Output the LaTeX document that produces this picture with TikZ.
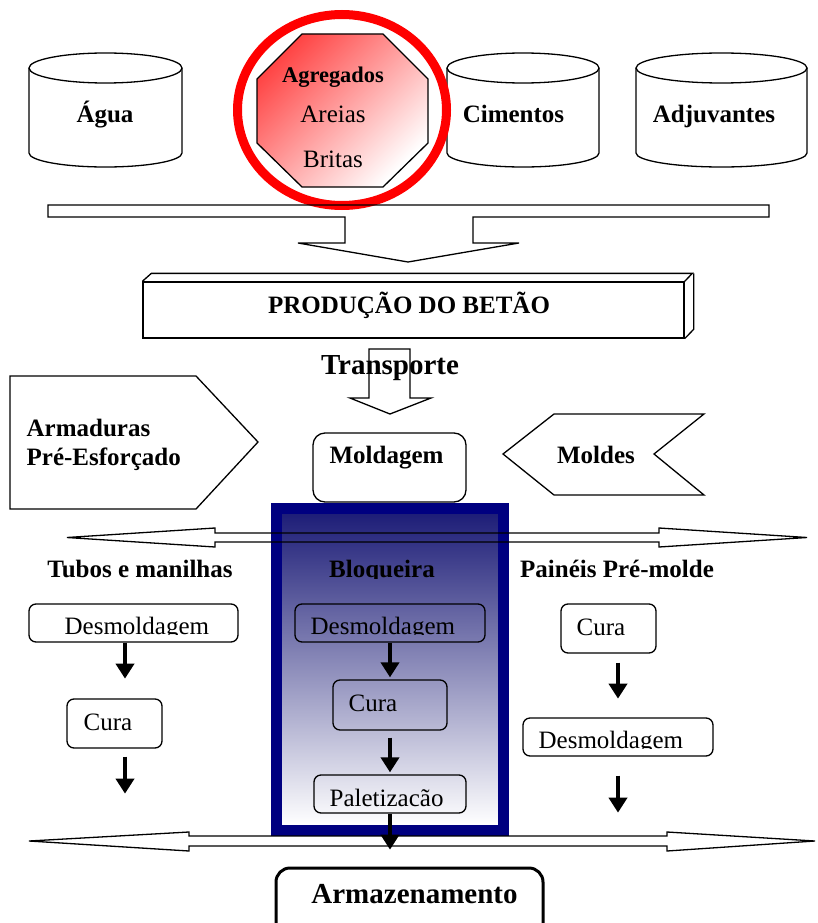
\documentclass[tikz,border=0pt]{standalone}
\usepackage{fontspec}
\setmainfont{Liberation Serif}
\usetikzlibrary{arrows.meta}

\definecolor{ringred}{RGB}{255,0,0}
\definecolor{octred}{RGB}{255,70,70}
\definecolor{navyframe}{RGB}{0,0,128}
\definecolor{shadetop}{RGB}{30,30,120}
\definecolor{shademid}{RGB}{175,175,205}

\newcommand{\fsmain}{\fontsize{25}{30}\selectfont}
\newcommand{\fsagg}{\fontsize{22.4}{27}\selectfont}
\newcommand{\fsbig}{\fontsize{29}{34}\selectfont}

\tikzset{
  lbl/.style={inner sep=0pt, anchor=base, font=\fsmain\bfseries},
  plain/.style={inner sep=0pt, anchor=base west, font=\fsmain},
  ibox/.style={draw, rounded corners=7pt, inner sep=0pt},
  blk/.style={line width=4pt, -{Triangle[width=18pt,length=15pt]}},
}

\begin{document}
\begin{tikzpicture}[x=1pt, y=-1pt, line width=1.3pt, line join=miter]
\useasboundingbox (0,0) rectangle (817,923);
\clip (0,0) rectangle (817,923);

% storage cylinders
\foreach \cx/\rx in {105.5/76.5, 523/76, 721.5/85.5}{
  \draw (\cx-\rx,68) -- (\cx-\rx,153)
        arc[start angle=180, end angle=360, x radius={\rx*1pt}, y radius=14pt]
        -- (\cx+\rx,68);
  \draw (\cx,68) ellipse[x radius={\rx*1pt}, y radius=15pt];
}
\node[lbl] (agua) at (105,123) {Água};
\node[lbl] (cim) at (513.5,123) {Cimentos};
\node[lbl] (adj) at (714,123) {Adjuvantes};

% aggregates octagon with highlight ring
\shade[top color=octred, bottom color=white, shading angle=45]
  (302,34) -- (383,34) -- (428,79) -- (428,143) -- (383,187)
  -- (302,187) -- (257,143) -- (257,79) -- cycle;
\draw (302,34) -- (383,34) -- (428,79) -- (428,143) -- (383,187)
  -- (302,187) -- (257,143) -- (257,79) -- cycle;
\draw[ringred, line width=9pt] (342,110) ellipse[x radius=104.5pt, y radius=95.5pt];
\node[inner sep=0pt, anchor=base, font=\fsagg\bfseries] (agr) at (333,83) {Agregados};
\node[inner sep=0pt, anchor=base, font=\fsmain] (are) at (333,123) {Areias};
\node[inner sep=0pt, anchor=base, font=\fsmain] (bri) at (333,167) {Britas};

% collecting arrow
\draw (48,205) -- (769,205) -- (769,217) -- (473,217) -- (473,243) -- (519,243)
  -- (408,262) -- (298,243) -- (345,243) -- (345,217) -- (48,217) -- cycle;

% concrete production block
\node[draw, minimum width=541pt, minimum height=56pt, inner sep=0pt] (prod) at (413.5,310) {};
\draw (prod.north west) -- ++(9,-8) -- ++(541,0) -- (prod.north east);
\draw (prod.north east) ++(9,-8) -- ++(0,56) -- (prod.south east);
\node[lbl] (prodt) at (409,313) {PRODUÇÃO DO BETÃO};

% transport
\node[inner sep=0pt, anchor=base, font=\fsbig\bfseries] (transp) at (390,374) {Transporte};
\draw (369,349) -- (410,349) -- (410,398) -- (431,398) -- (390,414) -- (350,398)
  -- (369,398) -- cycle;

% reinforcement input
\draw (10,376) -- (196,376) -- (258,442) -- (196,509) -- (10,509) -- cycle;
\node[lbl, anchor=base west] (arm) at (26,436) {Armaduras};
\node[lbl, anchor=base west] (pre) at (26,465) {Pré-Esforçado};

% moulding
\node[draw, rounded corners=12pt, minimum width=153pt, minimum height=69pt, inner sep=0pt]
  (moldbox) at (389.5,467.5) {};
\node[lbl] (mold) at (386.5,463) {Moldagem};

% moulds input
\draw (554,414) -- (704,414) -- (654,454) -- (704,495) -- (554,495) -- (503,454) -- cycle;
\node[lbl] (moldes) at (596,463) {Moldes};

% block plant frame
\shade[top color=shadetop, middle color=shademid, bottom color=white]
  (282,514) rectangle (498,825);
\draw[navyframe, line width=11pt] (276.5,508.5) rectangle (503.5,830.5);

% distribution arrow
\draw (67,537.5) -- (215,528) -- (215,533) -- (659,533) -- (659,528) -- (807,537.5)
  -- (659,547) -- (659,542) -- (215,542) -- (215,547) -- cycle;

% line headings
\node[lbl] (tubos) at (140,577) {Tubos e manilhas};
\begin{scope}
  \clip (0,0) rectangle (817,578);
  \node[lbl] (bloq) at (382,577) {Bloqueira};
\end{scope}
\node[lbl] (paineis) at (617,577) {Painéis Pré-molde};

% pipes line
\node[ibox, minimum width=209pt, minimum height=38pt] (l1) at (133.5,623) {};
\begin{scope}
  \clip (0,0) rectangle (817,634.5);
  \node[plain] (l1t) at (64,634) {Desmoldagem};
\end{scope}
\node[ibox, minimum width=95pt, minimum height=49pt] (l2) at (114.5,723.5) {};
\node[plain] (l2t) at (83,730) {Cura};
\draw[blk] ([xshift=-8.5pt]l1.south) -- ++(0,36);
\draw[blk] ([xshift=10.5pt,yshift=-8pt]l2.south) -- ++(0,37);

% block plant line
\node[ibox, minimum width=190pt, minimum height=38pt] (c1) at (390,623) {};
\begin{scope}
  \clip (0,0) rectangle (817,634.5);
  \node[plain] (c1t) at (310,634) {Desmoldagem};
\end{scope}
\node[ibox, minimum width=114pt, minimum height=50pt] (c2) at (390,705) {};
\node[plain] (c2t) at (348,711) {Cura};
\node[ibox, minimum width=152pt, minimum height=38pt] (c3) at (390,794) {};
\node[plain] (c3t) at (329,806) {Paletizacão};
\draw[blk] (c1.south) -- (c2.north) [shorten >=2pt];
\draw[blk, shorten <=7pt, shorten >=2pt] (c2.south) -- (c3.north);
\draw[blk] (c3.south) -- ++(0,36);

% panels line
\node[ibox, minimum width=95pt, minimum height=49pt] (r1) at (608.5,628.5) {};
\node[plain] (r1t) at (576,635) {Cura};
\node[ibox, minimum width=190pt, minimum height=38pt] (r2) at (618,737) {};
\begin{scope}
  \clip (0,0) rectangle (817,748.5);
  \node[plain] (r2t) at (538,748) {Desmoldagem};
\end{scope}
\draw[blk] ([xshift=9.5pt,yshift=-9pt]r1.south) -- ++(0,36);
\draw[blk] ([yshift=-19pt]r2.south) -- ++(0,37);

% collecting arrow to storage
\draw (29,841) -- (189,832) -- (189,836) -- (667,836) -- (667,832) -- (815,841)
  -- (667,851) -- (667,846) -- (189,846) -- (189,851) -- cycle;

% storage
\node[draw, line width=3pt, rounded corners=14pt, minimum width=267pt, minimum height=77pt,
  inner sep=0pt] (armbox) at (409.5,906.5) {};
\node[inner sep=0pt, anchor=base, font=\fsbig\bfseries] (armaz) at (414.5,903) {Armazenamento};
\end{tikzpicture}
\end{document}
